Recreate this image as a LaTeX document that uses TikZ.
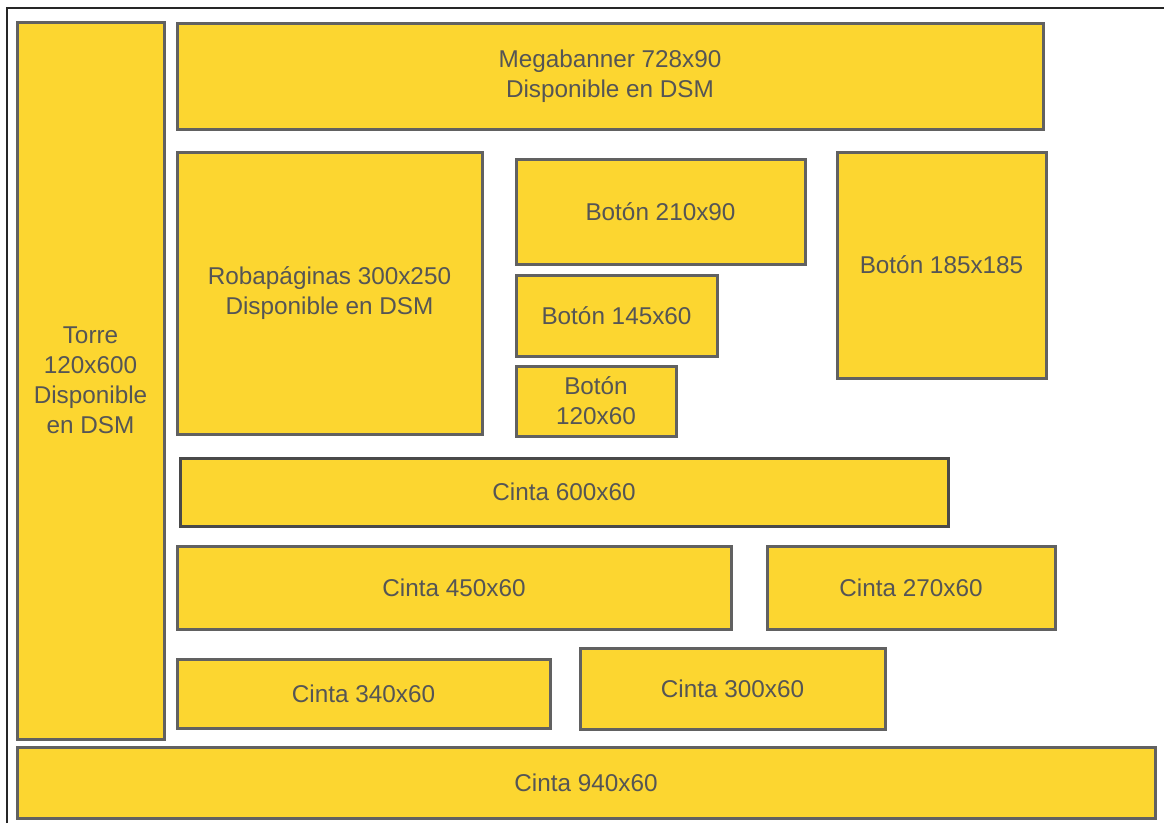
\documentclass[tikz,border=0pt]{standalone}
\usepackage{fontspec}
\setmainfont{Liberation Sans}
\definecolor{adfill}{HTML}{FCD630}
\definecolor{adline}{HTML}{616161}
\definecolor{adtext}{HTML}{555555}
\begin{document}
\begin{tikzpicture}[x=1pt,y=-1pt,
  ad/.style={draw=adline,fill=adfill,line width=3pt,inner sep=0pt,
    align=center,text=adtext,font=\fontsize{24.3}{30}\selectfont},
  addark/.style={ad,draw=adline!75!black}]
  \useasboundingbox (0,0) rectangle (1164,823);
  \draw[line width=1.8pt,black!85] (7,823) -- (7,8) -- (1164,8);
  % left column and top banner
  \node[ad,minimum width=147,minimum height=717] (torre) at (90.5,380.5) {Torre\\120x600\\Disponible\\en DSM};
  \node[ad,minimum width=866,minimum height=106] (mega) at (610,76) {Megabanner 728x90\\Disponible en DSM};
  \node[ad,minimum width=305,minimum height=282] (roba) at (329.5,293) {Robap\'aginas 300x250\\Disponible en DSM};
  % buttons
  \node[ad,minimum width=289,minimum height=105] (b210) at (660.5,211.5) {Bot\'on 210x90};
  \node[ad,minimum width=201,minimum height=81] (b145) at (616.5,315.5) {Bot\'on 145x60};
  \node[ad,minimum width=160,minimum height=70] (b120) at (596,401) {Bot\'on\\120x60};
  \node[ad,minimum width=209,minimum height=226] (b185) at (941.5,265) {Bot\'on 185x185};
  % strips
  \node[addark,minimum width=768,minimum height=68] (c600) at (564,492) {Cinta 600x60};
  \node[ad,minimum width=554,minimum height=83] (c450) at (454,587.5) {Cinta 450x60};
  \node[ad,minimum width=288,minimum height=83] (c270) at (911,587.5) {Cinta 270x60};
  \node[ad,minimum width=373,minimum height=69] (c340) at (363.5,693.5) {Cinta 340x60};
  \node[ad,minimum width=305,minimum height=81] (c300) at (732.5,688.5) {Cinta 300x60};
  \node[ad,minimum width=1138,minimum height=71] (c940) at (586,782.5) {Cinta 940x60};
\end{tikzpicture}
\end{document}
